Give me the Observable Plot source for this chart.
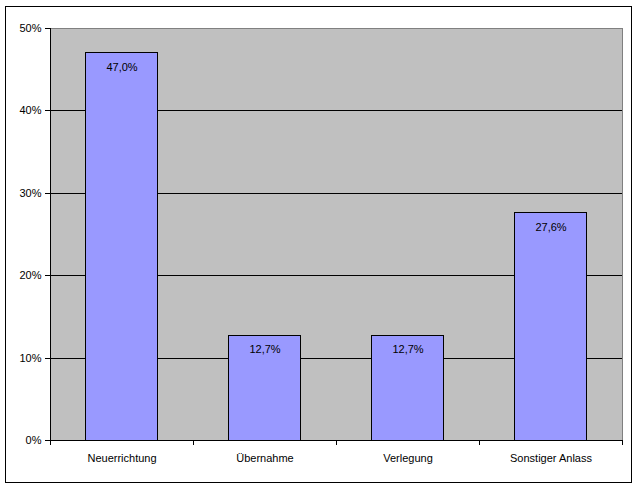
<!DOCTYPE html>
<html>
<head>
<meta charset="utf-8">
<script src="https://cdn.jsdelivr.net/npm/d3@7"></script>
<script src="https://cdn.jsdelivr.net/npm/@observablehq/plot@0.6"></script>
<style>
  html, body { margin: 0; padding: 0; background: #fff; }
  #wrap { position: relative; width: 638px; height: 489px; }
  #border { position: absolute; left: 5px; top: 6px; width: 625px; height: 475px; border: 1px solid #000; pointer-events: none; }
  svg { font-family: "Liberation Sans", Arial, sans-serif; }
  svg line, svg rect, svg path { shape-rendering: crispEdges; }
</style>
</head>
<body>
<div id="wrap"><div id="border"></div></div>
<script>
const categories = ["Neuerrichtung", "Übernahme", "Verlegung", "Sonstiger Anlass"];
const values = [47.0, 12.7, 12.7, 27.6];
const yTicks = [0, 10, 20, 30, 40, 50];
const gridLines = [10, 20, 30, 40];

const data = categories.map((c, i) => ({cat: c, idx: i, value: values[i]}));
const fmt = v => v.toFixed(1).replace(".", ",") + "%";

const chart = Plot.plot({
  width: 638,
  height: 489,
  marginLeft: 50,
  marginRight: 16,
  marginTop: 28,
  marginBottom: 49,
  style: {background: "transparent", fontSize: "11px", fontFamily: '"Liberation Sans", Arial, sans-serif', color: "#000"},
  x: {type: "linear", domain: [0, categories.length], ticks: d3.range(categories.length + 1), tickFormat: () => "", tickSize: 5, label: null},
  y: {domain: [0, 50], ticks: yTicks, tickFormat: d => d + "%", tickSize: 5, label: null},
  marks: [
    Plot.frame({fill: "#C0C0C0", stroke: null}),
    Plot.ruleY(gridLines, {stroke: "#000", strokeWidth: 1}),
    Plot.ruleY([50], {stroke: "#808080", strokeWidth: 1}),
    Plot.ruleX([categories.length], {y1: 0, y2: 50, stroke: "#808080", strokeWidth: 1}),
    Plot.rectY(data, {x1: d => d.idx + 0.25, x2: d => d.idx + 0.75, y1: 0, y2: "value", fill: "#9999FF", stroke: "#000", strokeWidth: 1}),
    Plot.text(data, {x: d => d.idx + 0.5, y: "value", text: d => fmt(d.value), dy: 14, lineAnchor: "middle", fill: "#000", fontSize: 11}),
    Plot.text(data, {x: d => d.idx + 0.5, y: 0, text: "cat", dy: 18, lineAnchor: "middle", fill: "#000", fontSize: 11}),
    Plot.axisX({ticks: d3.range(categories.length + 1), tickFormat: () => "", tickSize: 5, stroke: "#000"}),
    Plot.axisY({ticks: yTicks, tickFormat: d => d + "%", tickSize: 5, stroke: "#000", fill: "#000", fontSize: 11}),
    Plot.ruleX([0], {y1: 0, y2: 50, stroke: "#000"}),
    Plot.ruleY([0], {stroke: "#000"})
  ]
});
document.getElementById("wrap").prepend(chart);
</script>
</body>
</html>
